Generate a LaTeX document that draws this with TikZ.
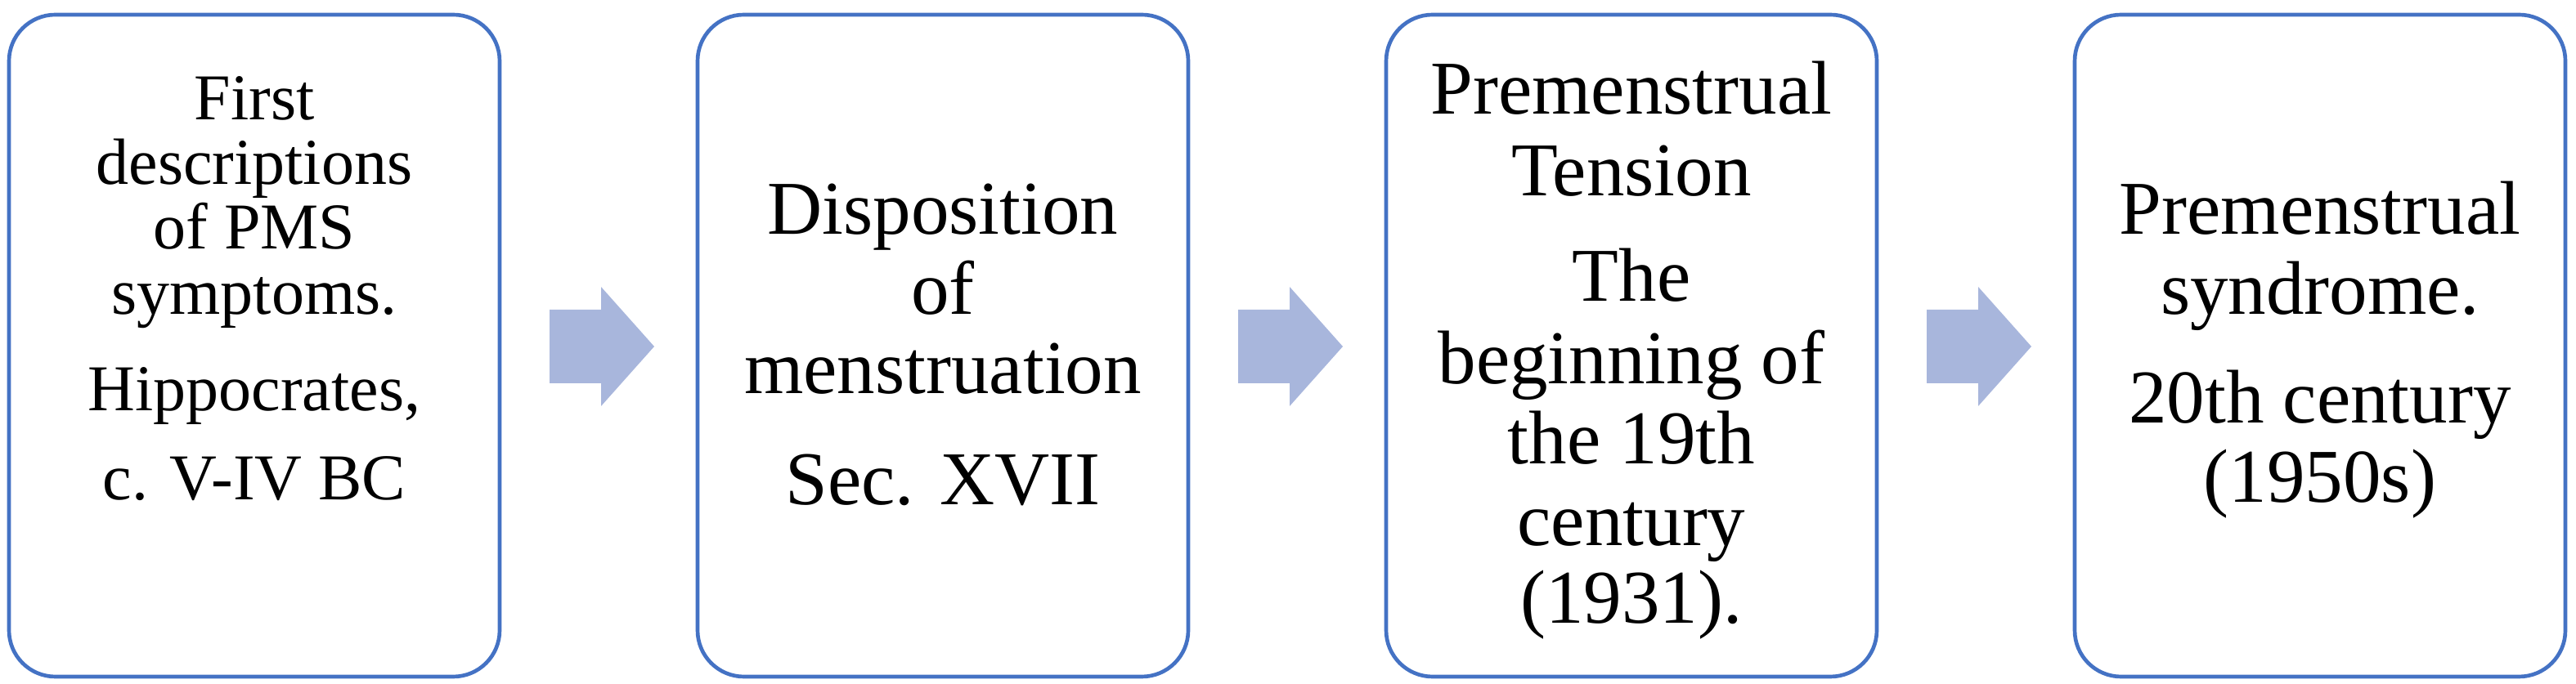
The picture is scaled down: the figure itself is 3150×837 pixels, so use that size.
\documentclass[tikz,border=0pt]{standalone}
\usepackage{fontspec}
\setmainfont{Liberation Serif}
\definecolor{boxblue}{RGB}{68,114,196}
\definecolor{arrowfill}{RGB}{168,182,220}
\begin{document}
\begin{tikzpicture}[x=0.3pt,y=-0.3pt,
  stagebox/.style={draw=boxblue, line width=1.4pt, fill=white, rounded corners=17pt,
                   minimum width=180pt, minimum height=243pt, inner sep=0pt},
  txt/.style={anchor=base, inner sep=0pt, font=\fontsize{27.9}{30}\selectfont},
  txtsmall/.style={anchor=base, inner sep=0pt, font=\fontsize{24}{25}\selectfont},
  blockarrow/.style={fill=arrowfill, draw=none}]
\path[use as bounding box] (0,0) rectangle (3150,837);
% boxes
\node[stagebox] (b1) at (311,423) {};
\node[stagebox] (b2) at (1153,423) {};
\node[stagebox] (b3) at (1995,423) {};
\node[stagebox] (b4) at (2837,423) {};
% arrows
\coordinate (a1) at (672,424);
\coordinate (a2) at (1514,424);
\coordinate (a3) at (2356,424);
\foreach \a in {a1,a2,a3}{
  \fill[blockarrow] (\a) ++(0,-45) -- ++(63,0) -- ++(0,-28) -- ++(65,73)
     -- ++(-65,73) -- ++(0,-28) -- ++(-63,0) -- cycle;
}
% box 1 text
\node[txtsmall] (t11) at (311,147) {First};
\node[txtsmall] (t12) at (311,226) {descriptions};
\node[txtsmall] (t13) at (311,305) {of PMS};
\node[txtsmall] (t14) at (311,385) {symptoms.};
\node[txtsmall] (t15) at (311,503) {Hippocrates,};
\node[txtsmall] (t16) at (311,612) {c. V-IV BC};
% box 2 text
\node[txt] (t21) at (1153,287) {Disposition};
\node[txt] (t22) at (1153,385) {of};
\node[txt] (t23) at (1153,482) {menstruation};
\node[txt] (t24) at (1153,618) {Sec. XVII};
% box 3 text
\node[txt] (t31) at (1995,140) {Premenstrual};
\node[txt] (t32) at (1995,240) {Tension};
\node[txt] (t33) at (1995,369) {The};
\node[txt] (t34) at (1995,470) {beginning of};
\node[txt] (t35) at (1995,568) {the 19th};
\node[txt] (t36) at (1995,668) {century};
\node[txt] (t37) at (1995,763) {(1931).};
% box 4 text
\node[txt] (t41) at (2837,287) {Premenstrual};
\node[txt] (t42) at (2837,385) {syndrome.};
\node[txt] (t43) at (2837,518) {20th century};
\node[txt] (t44) at (2837,615) {(1950s)};
\end{tikzpicture}
\end{document}
